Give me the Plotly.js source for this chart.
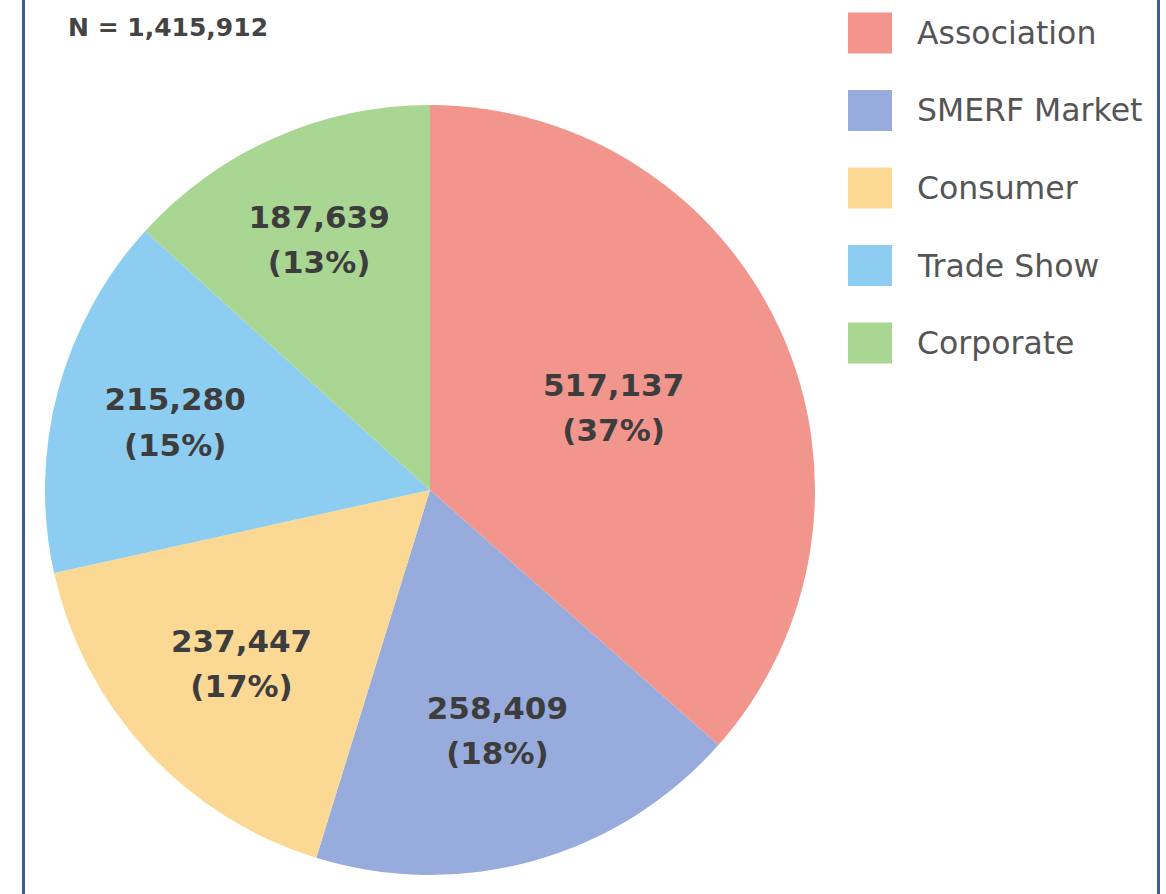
<!DOCTYPE html>
<html>
<head>
<meta charset="utf-8">
<script src="https://cdn.plot.ly/plotly-3.0.1.min.js"></script>
<style>
  html, body { margin: 0; padding: 0; background: #ffffff; }
  #wrap { position: relative; width: 1166px; height: 894px; overflow: hidden; }
  #chart { position: absolute; left: 0; top: 0; width: 1166px; height: 894px; }
  .edge { position: absolute; top: 0; width: 3px; height: 894px; background: #3c5f98; }
</style>
</head>
<body>
<div id="wrap">
  <div id="chart"></div>
  <div class="edge" style="left:22px"></div>
  <div class="edge" style="left:1157px"></div>
</div>
<script>
const categories = ["Association", "SMERF Market", "Consumer", "Trade Show", "Corporate"];
const values = [517137, 258409, 237447, 215280, 187639];
const colors = ["#f2968d", "#98abdd", "#fbd994", "#8ccdf1", "#a9d692"];
const totalLabel = "N = 1,415,912";

const W = 1166, H = 894;

const span = "<span style='font-size:31px'>";
const pie = {
  type: "pie",
  labels: categories,
  values: values,
  sort: false,
  direction: "clockwise",
  rotation: 0,
  marker: { colors: colors, line: { width: 0 } },
  texttemplate: span + "%{value:,}</span><br>" + span + "(%{percent:.0%})</span>",
  textposition: "inside",
  insidetextorientation: "horizontal",
  textfont: { family: "DejaVu Sans", size: 35, color: "#3d3d3d", weight: "bold" },
  hoverinfo: "label+value+percent",
  showlegend: false,
  domain: { x: [45 / W, 815 / W], y: [1 - 875 / H, 1 - 105 / H] }
};

// Custom legend with large swatches (built from categories/colors)
const shapes = [];
const annotations = [];
const legTop = 33, legStep = 77.5, sw = 44, sh = 41;
categories.forEach((c, i) => {
  const cy = legTop + i * legStep;
  shapes.push({
    type: "rect", xref: "paper", yref: "paper",
    x0: 848 / W, x1: (848 + sw) / W,
    y0: 1 - (cy + sh / 2) / H, y1: 1 - (cy - sh / 2) / H,
    fillcolor: colors[i], line: { width: 0 }
  });
  annotations.push({
    xref: "paper", yref: "paper", x: 915 / W, y: 1 - cy / H,
    xanchor: "left", yanchor: "middle", showarrow: false,
    text: c, font: { family: "DejaVu Sans", size: 31.5, color: "#555555" }
  });
});

const layout = {
  width: W, height: H,
  margin: { l: 0, r: 0, t: 0, b: 0 },
  paper_bgcolor: "#ffffff",
  title: {
    text: totalLabel, xref: "container", yref: "container",
    x: 68 / W, xanchor: "left", y: 1 - 27 / H, yanchor: "middle",
    font: { family: "DejaVu Sans", size: 25, color: "#444444", weight: "bold" }
  },
  shapes: shapes,
  annotations: annotations,
  showlegend: false
};

Plotly.newPlot("chart", [pie], layout, { displayModeBar: false, responsive: false });
</script>
</body>
</html>
